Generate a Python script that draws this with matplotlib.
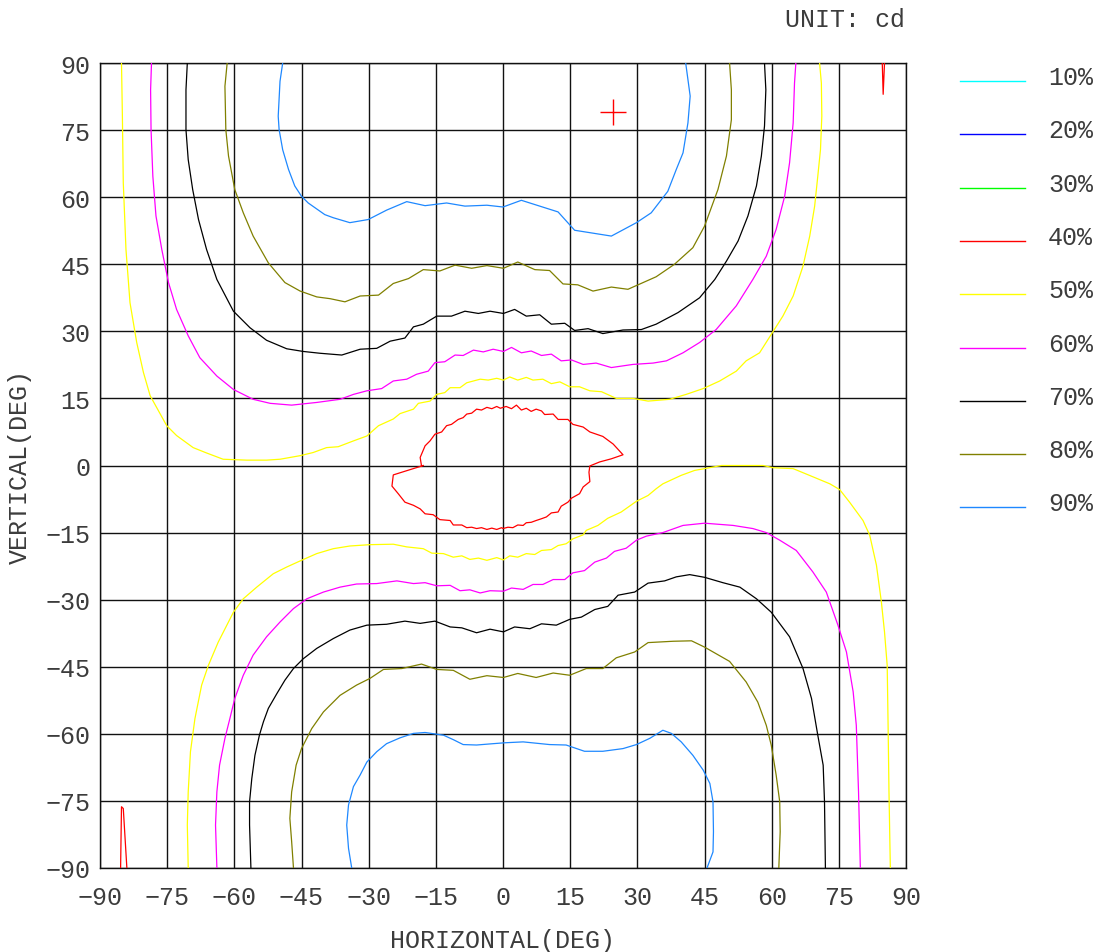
import matplotlib
matplotlib.use('Agg')
import matplotlib.pyplot as plt
from matplotlib.lines import Line2D

plt.rcParams['font.family'] = ['Liberation Mono', 'DejaVu Sans Mono']
plt.rcParams['axes.unicode_minus'] = True

# legend levels and colours
levels = ['10%', '20%', '30%', '40%', '50%', '60%', '70%', '80%', '90%']
colors = ['#00ffff', '#0000ff', '#00ff00', '#ff0000', '#ffff00', '#ff00ff', '#000000', '#808000', '#1e88ff']
ticks = [-90, -75, -60, -45, -30, -15, 0, 15, 30, 45, 60, 75, 90]

# peak position
peak_h = [24.5]
peak_v = [79.1]

# 90% contours
c90_top_h = [-49.2, -49.8, -50.2, -50.0, -49.2, -47.9, -46.5, -45.0, -43.5, -39.8, -37.9, -34.2, -30.1, -26.0, -21.5, -17.4, -12.6, -8.5, -3.6, 0.0,
             4.1, 8.2, 12.3, 16.0, 24.2, 29.8, 33.1, 36.8, 38.7, 40.2, 41.3, 41.8, 41.3, 40.8]
c90_top_v = [90, 85.9, 78.1, 75.1, 70.6, 66.2, 62.5, 60.2, 58.7, 56.1, 55.4, 54.3, 55.0, 57.1, 59.0, 58.1, 58.7, 58.0, 58.2, 57.8,
             59.3, 58.0, 56.7, 52.6, 51.3, 54.3, 56.5, 61.3, 66.2, 69.9, 76.6, 82.6, 86.3, 90]
c90_bot_h = [-33.8, -34.5, -34.9, -34.5, -33.4, -31.9, -30.4, -28.2, -26.0, -23.0, -20.0, -17.4, -13.3, -11.1, -8.9, -5.9, -2.2, 0.4,
             4.5, 10.4, 14.1, 18.2, 22.3, 26.8, 29.8, 32.8, 35.7, 37.6, 39.8, 42.4, 44.7, 46.2, 46.9, 47.0, 46.9, 45.6]
c90_bot_v = [-89.9, -85.6, -80.4, -75.9, -71.8, -69.2, -66.3, -64.0, -62.2, -60.9, -59.9, -59.7, -60.3, -61.3, -62.4, -62.5, -62.2, -62.0,
             -61.8, -62.4, -62.5, -63.9, -63.9, -63.3, -62.4, -61.0, -59.2, -59.9, -61.8, -64.8, -68.1, -71.1, -75.2, -81.9, -86.4, -89.9]

# 80% contours
c80_top_h = [-61.6, -62.1, -61.9, -61.3, -59.9, -58.0, -55.8, -52.4, -48.7, -45.3, -41.6, -38.6, -35.3, -31.9, -27.8, -24.5, -21.1, -17.8, -14.1, -10.7, -7.0, -3.6, 0.1,
             3.3, 7.1, 10.4, 13.4, 16.7, 20.1, 24.2, 27.9, 34.2, 38.3, 42.4, 45.0, 48.0, 49.9, 51.0, 51.0, 50.6]
c80_top_v = [90, 84.8, 75.1, 69.2, 61.7, 56.5, 51.3, 45.3, 40.9, 39.0, 37.7, 37.3, 36.6, 37.9, 38.1, 40.7, 41.8, 43.8, 43.5, 44.8, 44.1, 44.7, 44.1,
             45.5, 43.8, 43.6, 40.6, 40.4, 39.0, 39.9, 39.4, 42.2, 45.0, 48.7, 53.5, 61.7, 69.2, 77.3, 84.0, 90]
c80_bot_h = [-46.8, -47.2, -47.6, -47.2, -46.2, -45.0, -42.7, -40.1, -36.4, -32.7, -29.7, -26.7, -22.6, -18.2, -14.8, -11.1, -7.4, -3.6, 0.1,
             3.3, 7.4, 11.2, 14.9, 18.6, 22.3, 25.3, 29.4, 32.4, 38.0, 42.1, 45.0, 50.6, 54.3, 56.9, 58.8, 59.9, 61.0, 61.8, 61.9, 61.6]
c80_bot_v = [-89.9, -84.1, -78.9, -73.0, -67.0, -63.3, -58.8, -55.1, -51.4, -49.1, -47.6, -45.6, -45.4, -44.4, -45.6, -45.8, -47.8, -47.0, -47.4,
             -46.5, -47.4, -46.4, -46.9, -45.4, -45.4, -43.0, -41.7, -39.6, -39.3, -39.2, -40.6, -43.8, -48.4, -52.9, -58.1, -62.5, -69.2, -75.2, -81.9, -89.9]

# 70% contours
c70_top_h = [-70.5, -70.8, -70.8, -70.3, -69.3, -68.0, -66.2, -63.9, -60.2, -56.5, -52.8, -48.3, -44.6, -40.9, -36.0, -31.9, -28.2, -25.2, -21.9, -20.0,
             -17.8, -14.8, -11.5, -8.5, -5.5, -2.9, 0.1, 2.6, 5.2, 8.2, 10.8, 13.8, 16.0, 19.0, 22.3, 26.8, 30.9, 34.2, 39.1, 43.9, 47.3, 49.9,
             52.5, 54.7, 56.6, 57.7, 58.4, 58.7, 58.4]
c70_top_v = [90, 84.0, 75.1, 68.4, 61.7, 55.0, 48.3, 41.6, 34.5, 30.8, 28.0, 26.1, 25.5, 25.1, 24.7, 26.0, 26.2, 27.8, 28.5, 31.0,
             31.6, 33.4, 33.4, 34.5, 34.0, 34.5, 34.0, 34.9, 33.4, 33.7, 31.6, 31.8, 30.2, 30.6, 29.5, 30.3, 30.4, 31.6, 34.2, 37.5, 41.6, 45.7,
             50.2, 55.8, 62.5, 69.2, 75.9, 84.0, 90]
c70_bot_h = [-56.3, -56.6, -56.6, -56.1, -55.4, -54.4, -53.5, -52.4, -50.5, -48.7, -46.8, -44.6, -41.6, -37.9, -34.2, -30.4, -26.0, -21.9, -18.5, -15.2,
             -11.8, -9.2, -5.9, -2.9, 0.1, 2.6, 6.0, 8.6, 11.9, 14.9, 17.5, 20.5, 23.4, 25.7, 29.4, 32.4, 36.1, 38.7, 41.7, 45.0, 49.1,
             52.9, 56.6, 59.9, 64.0, 67.0, 68.9, 70.3, 71.5, 71.8, 72.0]
c70_bot_v = [-89.9, -80.4, -75.2, -70.0, -64.8, -60.3, -57.3, -54.3, -51.0, -48.0, -45.4, -43.2, -40.9, -38.7, -36.8, -35.7, -35.5, -34.8, -35.3, -34.8,
             -36.1, -36.3, -37.4, -36.6, -37.2, -36.1, -36.5, -35.4, -35.7, -34.4, -33.9, -32.2, -31.5, -29.0, -28.3, -26.3, -25.8, -24.9, -24.4, -25.0, -26.2,
             -27.2, -29.8, -32.8, -38.3, -45.4, -52.1, -60.3, -67.0, -75.2, -89.9]

# 60% contours
c60_top_h = [-78.5, -78.7, -78.6, -78.2, -77.5, -76.2, -74.7, -72.9, -70.3, -67.7, -63.9, -60.2, -55.8, -52.0, -47.2, -41.6, -36.4, -33.4, -30.4, -27.1,
             -24.5, -21.5, -19.3, -16.7, -15.2, -13.0, -10.7, -8.9, -6.6, -4.4, -2.2, 0.1, 1.9, 4.1, 6.3, 8.6, 10.8, 13.0, 15.3, 17.9, 20.8,
             24.2, 29.0, 33.5, 36.5, 40.2, 43.9, 47.6, 52.1, 55.8, 58.8, 61.0, 62.9, 64.0, 64.8, 65.1, 65.4]
c60_top_v = [90, 84.0, 75.1, 64.7, 55.8, 48.3, 40.9, 34.9, 29.0, 24.1, 20.0, 17.0, 14.8, 13.9, 13.5, 14.1, 14.8, 15.9, 16.7, 17.2,
             18.9, 19.3, 20.4, 21.1, 23.0, 23.2, 24.7, 24.6, 25.8, 25.4, 26.0, 25.5, 26.4, 25.2, 25.6, 24.6, 24.9, 23.4, 23.6, 22.6, 22.9,
             21.9, 22.6, 22.9, 23.4, 25.2, 27.5, 30.4, 35.7, 41.6, 46.8, 52.8, 60.2, 67.7, 76.6, 85.5, 90]
c60_bot_h = [-63.9, -64.2, -63.9, -63.3, -62.1, -61.0, -59.9, -58.0, -55.8, -52.8, -49.8, -46.8, -43.8, -40.1, -36.4, -32.7, -28.2, -23.7, -20.0, -17.4,
             -14.8, -11.8, -9.6, -7.4, -5.1, -2.9, 0.1, 1.9, 4.5, 6.7, 8.9, 11.2, 13.8, 15.6, 18.2, 20.5, 23.1, 24.9, 27.5, 29.8, 32.0,
             35.7, 40.2, 45.0, 51.4, 55.8, 58.8, 61.8, 65.5, 69.2, 72.2, 74.8, 76.7, 78.2, 78.9, 79.4, 79.8]
c60_bot_v = [-89.9, -80.4, -73.0, -67.0, -61.0, -56.6, -52.1, -46.9, -42.4, -38.3, -35.0, -32.0, -29.8, -28.3, -27.2, -26.5, -26.4, -25.8, -26.4, -26.2,
             -26.9, -26.8, -28.0, -27.8, -28.5, -28.0, -28.1, -27.4, -27.7, -26.6, -26.6, -25.5, -25.5, -24.0, -23.5, -21.6, -20.7, -19.2, -18.5, -16.7, -15.8,
             -15.0, -13.4, -12.9, -13.4, -14.1, -15.0, -16.7, -19.0, -23.8, -28.3, -35.7, -41.7, -50.6, -58.1, -73.0, -89.9]

# 50% contours
c50_top_h = [-85.2, -85.0, -84.8, -84.2, -83.3, -81.8, -80.3, -78.8, -75.1, -72.9, -69.2, -66.2, -62.5, -57.2, -52.8, -49.8, -45.3, -42.4, -39.4, -36.8,
             -33.4, -30.4, -27.8, -24.5, -23.0, -20.0, -18.9, -16.3, -14.8, -13.0, -11.8, -9.6, -8.1, -5.1, -3.3, -1.4, 0.1, 1.5, 3.3, 5.2, 6.7,
             8.9, 10.8, 12.7, 14.9, 17.1, 19.4, 22.0, 25.3, 29.0, 32.4, 37.2, 40.9, 44.7, 48.4, 52.1, 54.3, 57.3, 59.9, 62.5, 64.8, 67.0,
             68.5, 69.6, 70.3, 70.9, 71.2, 71.1, 70.7]
c50_top_v = [90, 78.1, 63.2, 48.3, 36.4, 27.5, 20.8, 15.6, 8.9, 6.7, 4.0, 2.8, 1.4, 1.2, 1.2, 1.4, 2.2, 2.9, 4.0, 4.2,
             5.5, 6.6, 8.9, 10.4, 11.6, 12.6, 13.9, 14.4, 15.9, 16.3, 17.4, 17.4, 18.5, 19.3, 19.1, 19.5, 19.1, 19.8, 19.1, 19.7, 19.1,
             19.3, 18.3, 18.7, 17.6, 17.6, 16.7, 16.5, 15.0, 15.0, 14.4, 14.8, 15.9, 17.2, 18.9, 21.1, 23.4, 25.2, 29.3, 33.4, 37.9, 44.6,
             51.3, 58.0, 64.7, 70.6, 78.1, 85.5, 90]
c50_bot_h = [-70.3, -70.5, -70.3, -69.8, -68.8, -67.3, -65.8, -63.6, -60.2, -58.0, -55.0, -51.3, -48.3, -45.0, -41.6, -37.9, -34.2, -29.7, -24.5, -21.5,
             -17.8, -15.9, -13.3, -11.1, -9.2, -7.4, -5.5, -3.6, -1.4, 0.1, 1.5, 3.3, 5.2, 7.1, 8.6, 10.8, 12.3, 14.1, 15.6, 17.9, 18.6,
             21.2, 23.4, 26.4, 29.8, 32.4, 34.2, 35.7, 39.8, 42.8, 45.0, 48.8, 54.3, 58.1, 60.3, 64.8, 67.7, 73.0, 75.2, 77.4, 80.4,
             81.9, 83.4, 84.5, 85.2, 85.8, 86.0, 86.2, 86.5]
c50_bot_v = [-89.9, -80.4, -73.0, -64.0, -56.6, -49.1, -44.7, -39.5, -32.8, -29.8, -27.2, -24.2, -22.7, -21.2, -19.7, -18.6, -18.0, -17.7, -17.6, -18.2,
             -18.6, -19.6, -19.7, -20.5, -20.2, -21.0, -20.7, -21.2, -20.6, -21.1, -20.2, -20.5, -19.7, -19.9, -19.0, -18.8, -17.9, -17.5, -16.4, -15.5, -14.5,
             -13.4, -11.8, -10.4, -8.0, -6.7, -5.2, -4.1, -2.2, -1.1, -0.7, 0.0, 0.0, 0.0, -0.5, -0.7, -1.9, -4.1, -5.4, -8.2, -12.3,
             -15.6, -22.3, -30.5, -37.2, -44.7, -58.1, -73.0, -89.9]

# 40% contours
c40_mid_h = [-18.2, -18.5, -17.4, -16.3, -15.2, -13.7, -12.6, -11.5, -10.0, -8.9, -8.1, -7.0, -5.9, -4.8, -3.6, -2.5, -1.4, -0.6, 0.7, 1.9, 3.0,
             4.1, 5.2, 6.3, 7.4, 8.6, 9.3, 11.2, 12.3, 14.5, 15.6, 17.9, 19.4, 22.3, 24.6, 26.8, 24.2, 21.6, 19.4, 19.2, 19.4, 17.9, 17.1,
             15.3, 14.5, 13.0, 12.3, 10.8, 9.7, 8.6, 7.4, 6.3, 5.2, 4.5, 3.3, 2.2, 1.1, 0.0, -0.3, -1.4, -2.5, -3.6, -4.8, -5.9, -7.0,
             -8.1, -9.2, -11.1, -11.8, -14.1, -15.6, -17.4, -18.5, -20.0, -21.9, -23.4, -24.8, -24.5, -17.8]
c40_mid_v = [-0.1, 1.8, 4.4, 5.5, 7.0, 7.5, 8.9, 9.2, 10.3, 10.7, 11.5, 11.7, 12.6, 12.4, 13.0, 12.7, 13.2, 12.8, 13.2, 12.7, 13.5,
             12.4, 12.8, 12.1, 12.6, 12.2, 11.4, 11.5, 10.3, 10.3, 9.2, 8.6, 7.5, 6.5, 4.8, 2.4, 1.5, 0.8, -0.1, -1.5, -3.6, -4.8, -6.3,
             -7.3, -8.2, -9.1, -10.4, -10.6, -11.5, -11.9, -12.3, -12.7, -12.8, -13.4, -13.3, -13.9, -13.8, -14.1, -13.9, -14.3, -14.0, -14.3, -13.9, -14.1, -13.8,
             -13.9, -13.3, -13.3, -12.3, -12.1, -11.0, -10.8, -9.7, -8.9, -8.2, -6.3, -4.6, -2.1, 0.0]
c40_tr_h = [84.7, 84.9, 85.2]
c40_tr_v = [90, 83.0, 90]
c40_bl_h = [-85.4, -85.2, -84.8, -84.0]
c40_bl_v = [-90, -76.3, -76.7, -90]

curves = [
    (c90_top_h, c90_top_v, colors[8]), (c90_bot_h, c90_bot_v, colors[8]),
    (c80_top_h, c80_top_v, colors[7]), (c80_bot_h, c80_bot_v, colors[7]),
    (c70_top_h, c70_top_v, colors[6]), (c70_bot_h, c70_bot_v, colors[6]),
    (c60_top_h, c60_top_v, colors[5]), (c60_bot_h, c60_bot_v, colors[5]),
    (c50_top_h, c50_top_v, colors[4]), (c50_bot_h, c50_bot_v, colors[4]),
    (c40_mid_h, c40_mid_v, colors[3]), (c40_tr_h, c40_tr_v, colors[3]), (c40_bl_h, c40_bl_v, colors[3]),
]

txt = '#3c3c3c'
fs = 18
fig = plt.figure(figsize=(11.04, 9.53), dpi=100)
ax = fig.add_axes([100 / 1104, 1 - 869 / 953, 806 / 1104, 805 / 953])

for h, v, c in curves:
    ax.plot(h, v, color=c, lw=0.9, zorder=3)
ax.plot(peak_h, peak_v, marker='+', color='#ff0000', ms=19, mew=1.0, ls='none', zorder=4)

ax.set_xlim(-90, 90)
ax.set_ylim(-90, 90)
ax.set_xticks(ticks)
ax.set_yticks(ticks)
ax.tick_params(length=0, labelsize=fs, labelcolor=txt)
ax.tick_params(axis='x', pad=12)
ax.tick_params(axis='y', pad=7)
ax.grid(True, color='#111111', lw=1.0, zorder=1)
for s in ax.spines.values():
    s.set_color('#111111')
    s.set_linewidth(1.0)

ax.set_xlabel('HORIZONTAL(DEG)', fontsize=fs, color=txt)
ax.set_ylabel('VERTICAL(DEG)', fontsize=fs, color=txt)
ax.xaxis.set_label_coords(0.5, (869 - 941) / 805)
ax.xaxis.label.set_va('center')
ax.yaxis.set_label_coords((20 - 100) / 806, 0.5)
ax.yaxis.label.set_va('center')
fig.text(905 / 1104, 1 - 20 / 953, 'UNIT: cd', fontsize=fs, color=txt, ha='right', va='center')

# legend at right
for i, (lab, col) in enumerate(zip(levels, colors)):
    y = 1 - (82 + i * 53.3) / 953
    fig.add_artist(Line2D([960 / 1104, 1025 / 1104], [y, y], color=col, lw=1.0, transform=fig.transFigure))
    fig.text(1048 / 1104, y + 4 / 953, lab, fontsize=fs, color=txt, ha='left', va='center')

fig.savefig('out.png', dpi=100)
